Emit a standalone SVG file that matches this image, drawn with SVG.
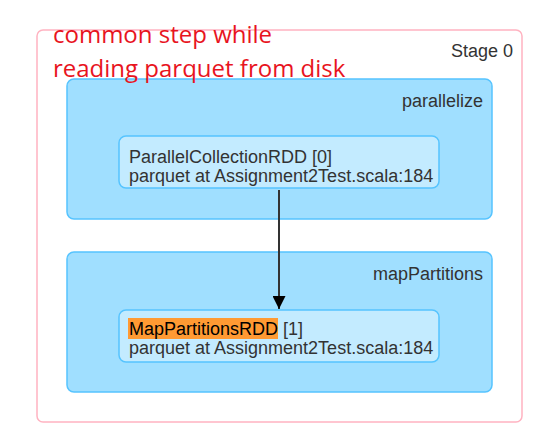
<svg xmlns="http://www.w3.org/2000/svg" width="559" height="444" viewBox="0 0 559 444">
<style>
.stage{fill:#fff;stroke:#FFB3C1;stroke-width:1.5}
.cluster{fill:#A0DFFF;stroke:#56C4FF;stroke-width:1.5}
.node{fill:#C3EBFF;stroke:#56C4FF;stroke-width:1.5}
.lbl{font-family:"Liberation Sans",Arial,sans-serif;font-size:18px;fill:#333}
.note{font-family:"Open Sans","Noto Sans",sans-serif;font-size:24px;fill:#E8141E}
.edge{stroke:#333;stroke-width:2;fill:none}
</style>
<defs>
<marker id="ah" viewBox="0 0 10 10" refX="10" refY="5" markerWidth="13" markerHeight="13" markerUnits="userSpaceOnUse" orient="auto">
<path d="M0,0 L10,5 L0,10 z" fill="#000"/>
</marker>
</defs>
<rect width="559" height="444" fill="#fff"/>
<g id="stage0">
<rect class="stage" x="37" y="30" width="485" height="392" rx="6"/>
<text class="lbl" x="513" y="57" text-anchor="end">Stage 0</text>
</g>
<g id="parallelize">
<rect class="cluster" x="67" y="79" width="425" height="140" rx="7"/>
<text class="lbl" x="483" y="107" text-anchor="end">parallelize</text>
</g>
<g id="mapPartitions">
<rect class="cluster" x="67" y="252" width="425" height="140" rx="7"/>
<text class="lbl" x="483" y="280" text-anchor="end">mapPartitions</text>
</g>
<g id="node0">
<rect class="node" x="119" y="136" width="320" height="52" rx="7"/>
<text class="lbl" x="129" y="163">ParallelCollectionRDD [0]</text>
<text class="lbl" x="129" y="182">parquet at Assignment2Test.scala:184</text>
</g>
<g id="node1">
<rect class="node" x="119" y="310" width="320" height="52" rx="7"/>
<rect x="128" y="318" width="150" height="21" fill="#FF9A33"/>
<text class="lbl" x="129" y="335"><tspan fill="#000">MapPartitionsRDD</tspan> [1]</text>
<text class="lbl" x="129" y="354">parquet at Assignment2Test.scala:184</text>
</g>
<g id="connectors">
<line class="edge" x1="279" y1="190" x2="279" y2="309" marker-end="url(#ah)"/>
</g>
<g id="note">
<text class="note" x="53" y="43">common step while</text>
<text class="note" x="53" y="77">reading parquet from disk</text>
</g>
</svg>
